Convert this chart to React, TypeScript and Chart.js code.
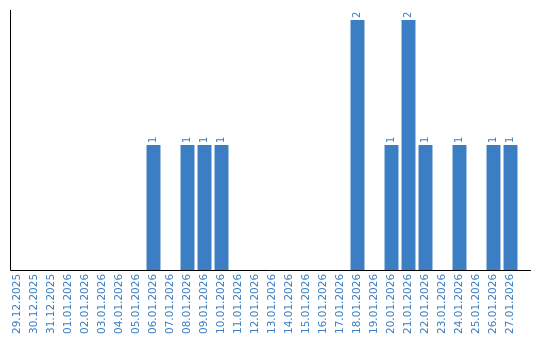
import React, { useEffect, useRef } from "react";
import { Chart, registerables } from "chart.js";

Chart.register(...registerables);

const categories: string[] = [
  "29.12.2025", "30.12.2025", "31.12.2025", "01.01.2026", "02.01.2026", "03.01.2026",
  "04.01.2026", "05.01.2026", "06.01.2026", "07.01.2026", "08.01.2026", "09.01.2026",
  "10.01.2026", "11.01.2026", "12.01.2026", "13.01.2026", "14.01.2026", "15.01.2026",
  "16.01.2026", "17.01.2026", "18.01.2026", "19.01.2026", "20.01.2026", "21.01.2026",
  "22.01.2026", "23.01.2026", "24.01.2026", "25.01.2026", "26.01.2026", "27.01.2026",
];

const counts: number[] = [
  0, 0, 0, 0, 0, 0,
  0, 0, 1, 0, 1, 1,
  1, 0, 0, 0, 0, 0,
  0, 0, 2, 0, 1, 2,
  1, 0, 1, 0, 1, 1,
];

const BLUE = "#3b7ec3";
const FONT = "DejaVu Sans, Verdana, sans-serif";

const axisLines = {
  id: "axisLines",
  afterDatasetsDraw(chart: any) {
    const { ctx, chartArea } = chart;
    ctx.save();
    ctx.strokeStyle = "#000";
    ctx.lineWidth = 1;
    ctx.beginPath();
    const lx = Math.round(chartArea.left) + 1.5;
    const by = Math.round(chartArea.bottom) + 0.5;
    ctx.moveTo(lx, chartArea.top);
    ctx.lineTo(lx, by);
    ctx.lineTo(chartArea.right + 12, by);
    ctx.stroke();
    ctx.restore();
  },
};

const valueLabels = {
  id: "valueLabels",
  afterDatasetsDraw(chart: any) {
    const { ctx } = chart;
    const meta = chart.getDatasetMeta(0);
    const data = chart.data.datasets[0].data as number[];
    ctx.save();
    ctx.fillStyle = BLUE;
    ctx.font = `10px ${FONT}`;
    ctx.textAlign = "left";
    ctx.textBaseline = "middle";
    meta.data.forEach((bar: any, i: number) => {
      const v = data[i];
      if (!v) return;
      ctx.save();
      ctx.translate(bar.x, bar.y - 2);
      ctx.rotate(-Math.PI / 2);
      ctx.fillText(String(v), 0, 0);
      ctx.restore();
    });
    ctx.restore();
  },
};

export default function App() {
  const ref = useRef<HTMLCanvasElement | null>(null);

  useEffect(() => {
    document.body.style.margin = "0";
    const canvas = ref.current;
    if (!canvas) return;
    const chart = new Chart(canvas, {
      type: "bar",
      data: {
        labels: categories,
        datasets: [
          {
            data: counts,
            backgroundColor: BLUE,
            borderWidth: 0,
            barPercentage: 0.82,
            categoryPercentage: 1,
          },
        ],
      },
      options: {
        animation: false,
        responsive: false,
        maintainAspectRatio: false,
        layout: { padding: { left: 9, right: 21, top: 10, bottom: 2 } },
        plugins: {
          legend: { display: false },
          tooltip: { enabled: false },
          title: { display: false },
        },
        scales: {
          x: {
            grid: { display: false, drawTicks: false },
            border: { display: false },
            ticks: {
              color: BLUE,
              font: { family: FONT, size: 10.5 },
              minRotation: 90,
              maxRotation: 90,
              autoSkip: false,
              padding: 4,
            },
          },
          y: {
            display: false,
            min: 0,
            max: 2.08,
          },
        },
      },
      plugins: [axisLines, valueLabels],
    });
    return () => chart.destroy();
  }, []);

  return <canvas ref={ref} width={540} height={340} style={{ display: "block" }} />;
}
